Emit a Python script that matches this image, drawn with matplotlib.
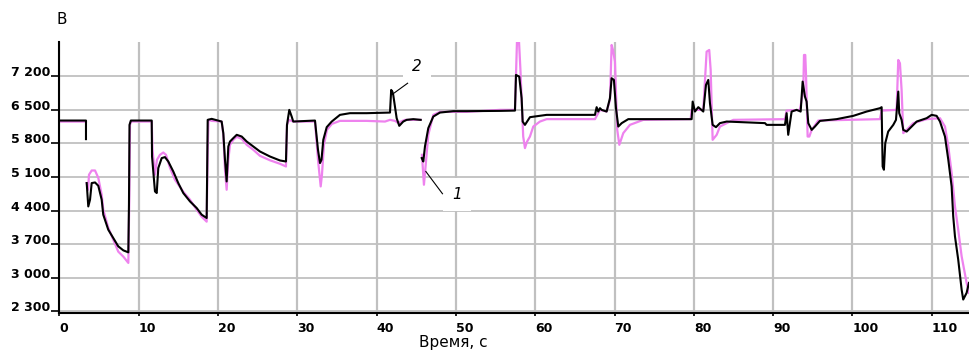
import numpy as np
import matplotlib
matplotlib.use("Agg")
import matplotlib.pyplot as plt

nan = np.nan

# кривая 2 (чёрная)
t2 = [0, 3.34, 3.34, nan, 3.43, 3.63, 3.85, 4.06, 4.48, 4.89, 5.32, 5.52, 6.15, 6.78, 7.41,
      8.05, 8.68, 8.76, 8.83, 9.0, 11.63, 11.67, 12.04, 12.26, 12.46, 12.89, 13.3, 13.72,
      14.35, 14.98, 15.61, 16.46, 17.3, 17.93, 18.56, 18.69, 19.19, 20.45, 20.66, 20.87,
      21.08, 21.29, 21.5, 21.92, 22.35, 22.98, 23.61, 24.44, 25.28, 26.54, 27.81, 28.56,
      28.69, 28.98, 29.28, 29.48, 32.22, 32.6, 32.85, 33.04, 33.27, 33.7, 34.33, 35.37,
      36.63, 38.74, 41.68, 41.83, 41.99, 42.09, 42.52, 42.85, 43.35, 43.78, 44.62, 45.55,
      nan, 45.68, 45.88, 46.09, 46.51, 47.14, 47.98, 49.66, 51.35, 55.55, 57.44, 57.57,
      57.98, 58.28, 58.41, 58.7, 59.33, 61.44, 67.53, 67.74, 67.94, 68.16, 68.37, 69.0,
      69.42, 69.63, 69.92, 70.18, 70.47, 70.9, 71.73, 79.72, 79.85, 80.14, 80.56, 81.19,
      81.53, 81.82, 82.03, 82.37, 82.79, 83.29, 84.14, 88.97, 89.18, 91.49, 91.7, 91.9,
      92.33, 92.96, 93.47, 93.72, 94.01, 94.22, 94.43, 94.86, 95.27, 95.9, 98.01, 100.1,
      101.79, 103.47, 103.68, 103.81, 103.97, 104.14, 104.51, 105.15, 105.49, 105.78,
      105.9, 106.2, 106.41, 106.84, 107.47, 108.1, 109.36, 109.99, 110.62, 111.04, 111.67,
      112.09, 112.51, 112.71, 112.93, 113.34, 113.77, 113.97, 114.4, 114.69]
u2 = [6272, 6272, 5885, nan, 4971, 4485, 4625, 4971, 4984, 4915, 4625, 4313, 4001, 3829, 3655,
      3571, 3530, 4521, 6182, 6272, 6272, 5524, 4797, 4764, 5283, 5491, 5511, 5420,
      5212, 4971, 4764, 4589, 4452, 4313, 4244, 6286, 6307, 6251, 6010, 5455,
      5005, 5732, 5835, 5906, 5975, 5939, 5835, 5732, 5628, 5524, 5441, 5420,
      6182, 6494, 6355, 6251, 6272, 5663, 5387, 5455, 5871, 6134, 6251, 6390,
      6425, 6425, 6438, 6909, 6868, 6805, 6321, 6162, 6251, 6286, 6301, 6286,
      nan, 5491, 5420, 5732, 6114, 6355, 6438, 6467, 6467, 6473, 6479, 7221,
      7185, 6737, 6251, 6182, 6342, 6390, 6390, 6550, 6459, 6529, 6494, 6459,
      6737, 7152, 7117, 6529, 6147, 6218, 6301, 6301, 6666, 6459, 6550, 6459,
      7013, 7117, 6633, 6182, 6134, 6218, 6251, 6218, 6182, 6182, 6425, 5975,
      6459, 6494, 6459, 7082, 6770, 6666, 6218, 6078, 6147, 6265, 6301, 6369,
      6459, 6529, 6550, 5316, 5248, 5802, 6043, 6182, 6286, 6874,
      6425, 6286, 6078, 6043, 6147, 6251, 6321, 6390, 6369, 6251, 5939,
      5455, 4901, 4278, 3862, 3378, 2755, 2548, 2687, 2894]

# кривая 1 (розовая)
t1 = [0, 3.34, nan, 3.43, 3.6, 3.72, 4.06, 4.48, 4.89, 5.32, 5.52, 6.15, 6.78, 7.41, 8.05,
      8.68, 8.8, 8.89, 9.02, 11.63, 11.73, 12.04, 12.29, 12.67, 13.09, 13.43, 13.93, 14.56,
      15.61, 16.46, 17.3, 17.93, 18.56, 18.69, 18.79, 19.19, 20.45, 20.66, 20.87, 21.08,
      21.29, 21.5, 21.92, 22.35, 22.98, 23.61, 24.44, 25.28, 26.54, 27.81, 28.56, 28.69,
      28.94, 29.48, 32.22, 32.6, 32.94, 33.1, 33.35, 33.73, 34.36, 35.37, 38.74, 41.05,
      41.68, 42.31, 42.69, 43.57, 45.55, nan, 45.71, 45.96, 46.13, 46.51, 47.14, 47.98,
      51.35, 55.55, 57.44, 57.63, 57.7, 57.94, 58.13, 58.48, 58.7, 58.95, 59.33, 59.75,
      60.59, 61.44, 67.53, 68.16, 69.0, 69.42, 69.63, 69.8, 70.05, 70.34, 70.6, 71.1,
      71.94, 73.62, 79.6, 79.72, 81.19, 81.61, 81.94, 82.12, 82.37, 82.88, 83.29, 84.97,
      91.49, 91.7, 93.38, 93.8, 93.89, 94.05, 94.14, 94.35, 94.56, 94.86, 95.69, 103.47,
      103.68, 105.57, 105.78, 105.99, 106.2, 106.41, 106.84, 107.67, 109.36, 111.04,
      111.67, 112.09, 112.51, 112.93, 113.34, 113.77, 114.4, 114.69]
u1 = [6250, 6250, nan, 4971, 4832, 5144, 5233, 5233, 5081, 4728, 4417, 4043, 3794, 3545, 3441,
      3310, 4625, 6182, 6251, 6251, 5663, 5144, 5455, 5559, 5607, 5559, 5289, 5040,
      4791, 4625, 4417, 4271, 4168, 5663, 6286, 6265, 6251, 5975, 5248, 4832,
      5455, 5767, 5871, 5933, 5891, 5767, 5663, 5538, 5445, 5372, 5316, 6182,
      6286, 6251, 6251, 5455, 4901, 5144, 5767, 6078, 6203, 6265, 6265, 6251,
      6286, 6265, 6224, 6286, 6286, nan, 5559, 4936, 5248, 5975, 6390, 6452,
      6452, 6494, 6494, 7532, 7950, 7950, 7325, 5939, 5698, 5829, 5939, 6147,
      6251, 6301, 6301, 6494, 6459, 6702, 7844, 7740, 7497, 6078, 5767, 6010,
      6182, 6286, 6301, 6494, 6494, 7705, 7740, 7325, 5871, 5975, 6147, 6286,
      6301, 6479, 6494, 6909, 7636, 7636, 7256, 5939, 5939, 6078, 6272, 6301,
      6479, 6494, 7532, 7464, 6909, 6010, 6078, 6218, 6301, 6321,
      6147, 5732, 5179, 4485, 4001, 3447, 2894, 2687]

x_ticks = [0, 10, 20, 30, 40, 50, 60, 70, 80, 90, 100, 110]
y_ticks = [2300, 3000, 3700, 4400, 5100, 5800, 6500, 7200]
y_labels = ["2 300", "3 000", "3 700", "4 400", "5 100", "5 800", "6 500", "7 200"]

fig = plt.figure(figsize=(9.69, 3.58), dpi=100)
ax = fig.add_axes([0.0614, 0.1249, 1 - 0.0614, 0.8835 - 0.1249])

ax.plot(t1, u1, color="#ee82ee", lw=1.6, zorder=2)
ax.plot(t2, u2, color="black", lw=1.5, zorder=3)

ax.set_xlim(0, 114.7)
ax.set_ylim(2262, 7912)

ax.set_xticks(x_ticks)
ax.set_yticks(y_ticks, y_labels)
ax.grid(True, axis="x", color="#c0c0c0", lw=1.6)
ax.grid(True, axis="y", color="#c0c0c0", lw=1.3)
ax.set_axisbelow(True)

for s in ("top", "right"):
    ax.spines[s].set_visible(False)
for s in ("left", "bottom"):
    ax.spines[s].set_linewidth(1.5)

ax.tick_params(axis="x", direction="out", length=2.5, width=1.2, pad=3.5)
ax.tick_params(axis="y", direction="out", length=6, width=1.2, pad=0.5)
for lab in ax.get_xticklabels():
    lab.set_ha("left")
    lab.set_fontsize(9)
    lab.set_fontweight("bold")
for lab in ax.get_yticklabels():
    lab.set_va("baseline")
    lab.set_fontsize(9)
    lab.set_fontweight("bold")

fig.text(62 / 969, 1 - 19 / 358, "В", fontsize=11, ha="center", va="center")
fig.text(453 / 969, 1 - 342 / 358, "Время, с", fontsize=11, ha="center", va="center")

# подписи кривых: выноски от текста к линии
box = dict(boxstyle="square,pad=0.6", fc="white", ec="none")
ax.text(45.1, 7387, "2", fontsize=11, style="italic", ha="center", va="center", bbox=box, zorder=4)
ax.plot([43.9, 42.0], [7048, 6820], color="black", lw=0.8, zorder=5)
ax.text(50.1, 4728, "1", fontsize=11, style="italic", ha="center", va="center", bbox=box, zorder=4)
ax.plot([46.2, 48.3], [5212, 4749], color="black", lw=0.8, zorder=5)

fig.savefig("out.png", dpi=100)
